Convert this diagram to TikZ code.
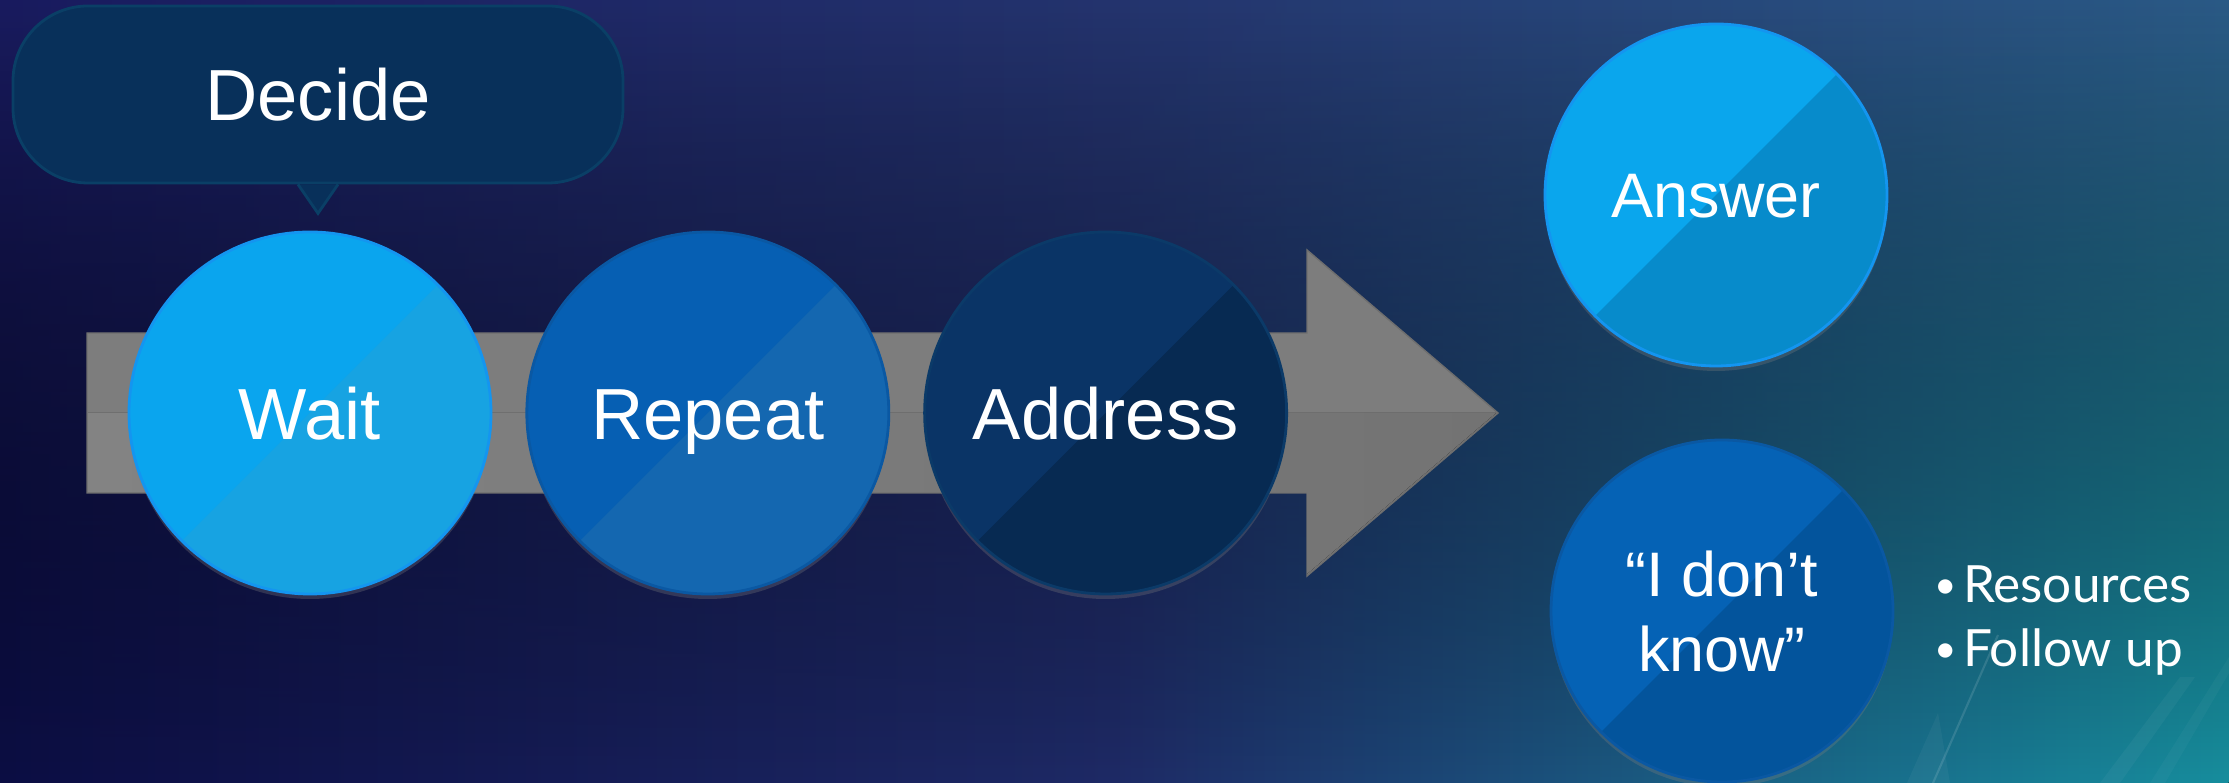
\documentclass[tikz,border=0pt]{standalone}
\usepackage{fontspec}
\setmainfont{Liberation Sans}
\newfontfamily\listfont{Lato}
\usetikzlibrary{positioning,calc,fadings,shadows}

\definecolor{bgTopLeft}{HTML}{1A1C60}
\definecolor{bgTopMid}{HTML}{25356F}
\definecolor{bgTopRight}{HTML}{2B5A86}
\definecolor{bgBotLeft}{HTML}{0C0E44}
\definecolor{bgBotMid}{HTML}{1E2A66}
\definecolor{bgBotRight}{HTML}{178E9E}
\definecolor{arrowgray}{HTML}{7D7D7D}
\definecolor{arrowlowL}{HTML}{838383}
\definecolor{arrowlowR}{HTML}{737373}
\definecolor{arrowedge}{HTML}{6E6E6E}
\definecolor{waitblue}{HTML}{0AA5EE}
\definecolor{waitlow}{HTML}{17A3E2}
\definecolor{lightedge}{HTML}{1495F0}
\definecolor{repeatblue}{HTML}{065FB3}
\definecolor{repeatlow}{HTML}{1467B0}
\definecolor{midedge}{HTML}{0A58A3}
\definecolor{addressblue}{HTML}{0A3466}
\definecolor{addresslow}{HTML}{072A52}
\definecolor{darkedge}{HTML}{0B3A68}
\definecolor{answerblue}{HTML}{0AA6ED}
\definecolor{answerlow}{HTML}{078BCB}
\definecolor{knowblue}{HTML}{0562B5}
\definecolor{knowlow}{HTML}{03549C}
\definecolor{calloutblue}{HTML}{08305A}
\definecolor{calloutshine}{HTML}{0B3A68}
\definecolor{calloutedge}{HTML}{0A3F66}

\tikzfading[name=fade up, top color=transparent!100, bottom color=transparent!0]

\begin{document}
\begin{tikzpicture}
	[node distance=0.33cm,
		ball/.style={circle,draw,line width=0.8pt,minimum size=3.62cm,inner sep=0pt,text=white,
			font=\fontsize{20.6}{25}\selectfont,text height=0.53cm,text depth=0pt,
			drop shadow={shadow xshift=0pt,shadow yshift=-0.05cm,opacity=0.3}},
		small ball/.style={ball,minimum size=3.42cm,font=\fontsize{17.9}{21.6}\selectfont,text height=0.45cm},
		half/.style={path picture={\fill[#1] (path picture bounding box.south west) -- (path picture bounding box.north east) -- (path picture bounding box.south east) -- cycle;}},
		callout box/.style={rectangle,rounded corners=0.75cm,minimum width=6.10cm,minimum height=1.77cm,
			fill=calloutblue,draw=calloutedge,line width=0.8pt,text=white,font=\fontsize{20.6}{25}\selectfont,
			path picture={\fill[calloutshine] (0.13,7.77) -- (2.50,7.77) -- (0.96,6.00) -- (0.13,6.00) -- cycle;
				\fill[calloutshine] (2.98,7.77) -- (3.18,7.48) -- (3.37,7.77) -- cycle;}},
		list item/.style={anchor=base west,inner sep=0pt,text=white,font=\listfont\fontsize{14.6}{17}\selectfont}]

	% background
	\fill[left color=bgTopLeft, right color=bgTopRight, middle color=bgTopMid] (0,0) rectangle (22.29,7.83);
	\fill[left color=bgBotLeft, right color=bgBotRight, middle color=bgBotMid, path fading=fade up] (0,0) rectangle (22.29,7.83);
	\useasboundingbox (0,0) rectangle (22.29,7.83);
	\draw[white, opacity=0.12, line width=0.6pt] (19.33,0) -- (19.98,1.48);
	\fill[white, opacity=0.04] (19.07,0) -- (19.38,0.70) -- (19.50,0) -- cycle;
	\fill[white, opacity=0.04] (21.00,0) -- (21.80,1.06) -- (21.95,1.06) -- (21.20,0) -- cycle;
	\fill[white, opacity=0.03] (21.50,0) -- (22.29,1.26) -- (22.29,1.10) -- (21.65,0) -- cycle;

	% big arrow
	\filldraw[fill=arrowgray, draw=arrowedge, line width=0.4pt] (0.87,4.50) -- (13.07,4.50) -- (13.07,5.33) -- (14.98,3.70) -- (13.07,2.07) -- (13.07,2.90) -- (0.87,2.90) -- cycle;
	\fill[left color=arrowlowL, right color=arrowlowR] (0.88,3.70) -- (14.96,3.70) -- (13.07,2.09) -- (13.07,2.91) -- (0.88,2.91) -- cycle;

	\node[ball, fill=waitblue, draw=lightedge, half=waitlow] (wait) at (3.10,3.70) {Wait};
	\node[ball, fill=repeatblue, draw=midedge, half=repeatlow, right=of wait] (repeat) {Repeat};
	\node[ball, fill=addressblue, draw=darkedge, half=addresslow, right=of repeat] (address) {Address};

	\node[small ball, fill=answerblue, draw=lightedge, half=answerlow] (answer) at (17.16,5.88) {Answer};
	\node[small ball, fill=knowblue, draw=midedge, half=knowlow, align=center, text height=1.22cm, text depth=0pt] (dontknow) at (17.22,1.72) {“I don’t\\know”};

	% callout
	\node[callout box] (decide) at (3.18,6.885) {Decide};
	\filldraw[fill=calloutblue, draw=calloutedge, line width=0.8pt] ($(decide.south)+(-0.20,0)$) -- ($(decide.south)+(0,-0.29)$) -- ($(decide.south)+(0.20,0)$);

	\node[list item] (resources) at (19.34,1.80) {{\fontsize{11}{11}\selectfont\raisebox{0.04cm}{•}}\hspace{0.06cm}Resources};
	\node[list item] (followup) at (19.34,1.16) {{\fontsize{11}{11}\selectfont\raisebox{0.04cm}{•}}\hspace{0.06cm}Follow up};

\end{tikzpicture}
\end{document}
